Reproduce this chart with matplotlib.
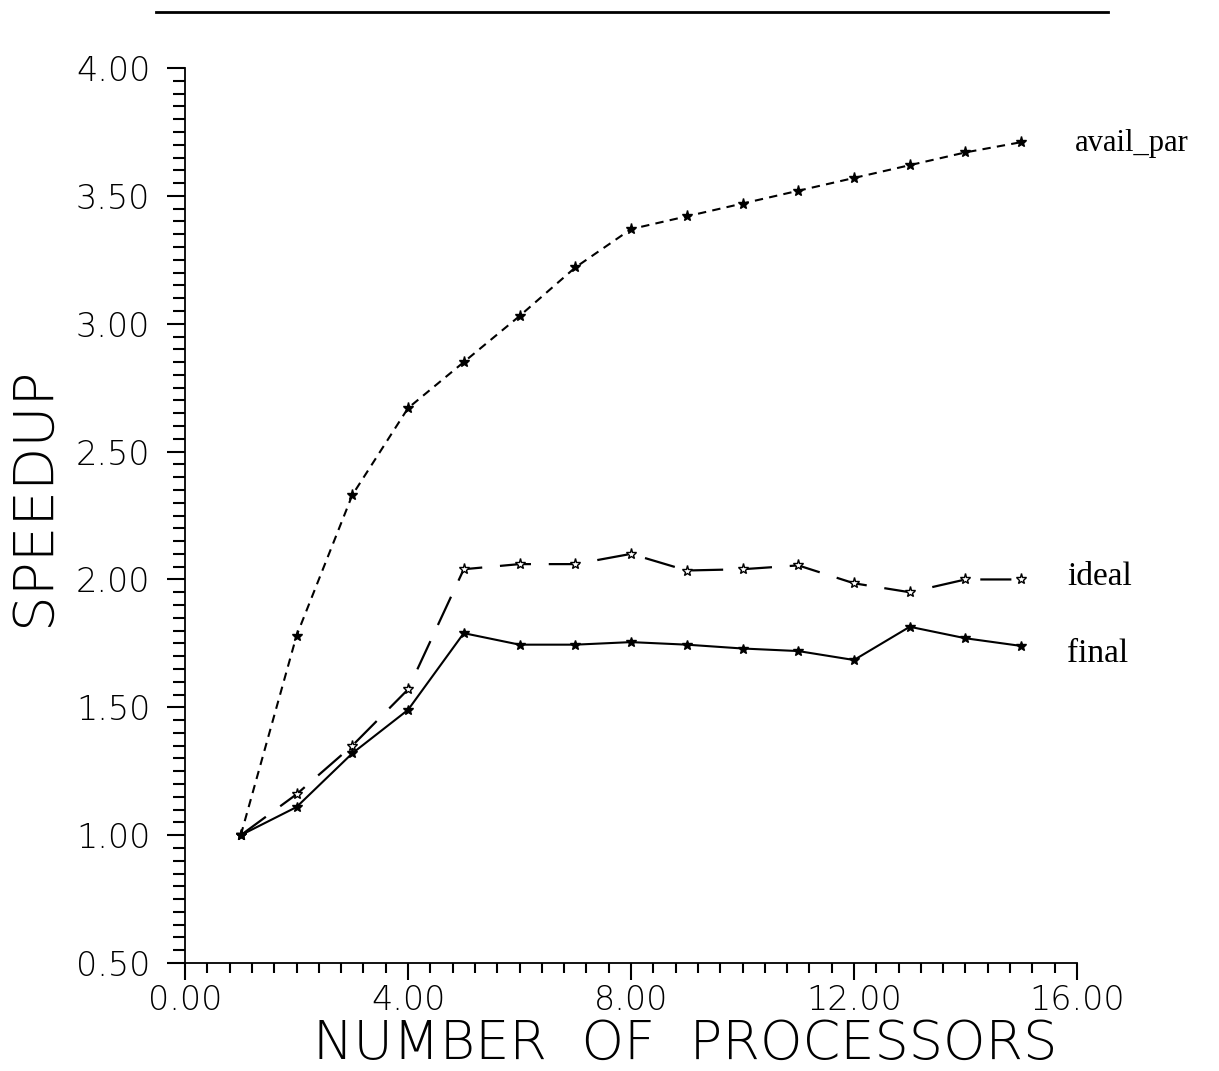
import matplotlib
matplotlib.use("Agg")
import matplotlib.pyplot as plt
from matplotlib.ticker import MultipleLocator, FormatStrFormatter
from matplotlib.lines import Line2D

# Number of processors and measured speedups
processors = [1, 2, 3, 4, 5, 6, 7, 8, 9, 10, 11, 12, 13, 14, 15]
avail_par = [1.00, 1.78, 2.33, 2.67, 2.85, 3.03, 3.22, 3.37, 3.42, 3.47, 3.52, 3.57, 3.62, 3.67, 3.71]
ideal = [1.00, 1.16, 1.35, 1.57, 2.04, 2.06, 2.06, 2.10, 2.035, 2.04, 2.055, 1.985, 1.95, 2.00, 2.00]
final = [1.00, 1.11, 1.32, 1.49, 1.79, 1.745, 1.745, 1.755, 1.745, 1.73, 1.72, 1.685, 1.815, 1.77, 1.74]

series_names = ["avail_par", "ideal", "final"]

x_ticks = [0, 4, 8, 12, 16]
y_ticks = [0.5, 1.0, 1.5, 2.0, 2.5, 3.0, 3.5, 4.0]

fig = plt.figure(figsize=(12.19, 10.71), dpi=100)
ax = fig.add_axes([0.1518, 0.1008, 0.7317, 0.8357])

ax.plot(processors, avail_par, color="black", lw=1.5, dashes=(4, 3),
        marker="*", ms=8, mfc="black", mec="black")
ax.plot(processors, ideal, color="black", lw=1.6, dashes=(14, 8),
        marker="*", ms=8, mfc="white", mec="black", mew=1.0)
ax.plot(processors, final, color="black", lw=1.5,
        marker="*", ms=7, mfc="black", mec="black")

# Series names at the end of each curve
serif = ["Liberation Serif", "DejaVu Serif"]
ax.text(15.97, avail_par[-1] - 0.005, series_names[0], ha="left", va="center",
        fontsize=22, family=serif)
ax.text(15.82, ideal[-1] + 0.01, series_names[1], ha="left", va="center",
        fontsize=24, family=serif)
ax.text(15.82, final[-1] - 0.03, series_names[2], ha="left", va="center",
        fontsize=24, family=serif)

ax.set_xlim(0, 16)
ax.set_ylim(0.5, 4.0)
ax.set_xticks(x_ticks)
ax.set_yticks(y_ticks)
ax.xaxis.set_minor_locator(MultipleLocator(0.4))
ax.yaxis.set_minor_locator(MultipleLocator(0.05))
ax.xaxis.set_major_formatter(FormatStrFormatter("%.2f"))
ax.yaxis.set_major_formatter(FormatStrFormatter("%.2f"))

for side in ("top", "right"):
    ax.spines[side].set_visible(False)
for side in ("left", "bottom"):
    ax.spines[side].set_linewidth(1.3)

ax.tick_params(axis="y", which="major", direction="out", length=13, width=1.5, pad=12)
ax.tick_params(axis="y", which="minor", direction="out", length=9, width=1.5)
ax.tick_params(axis="x", which="major", direction="out", length=12, width=1.5, pad=3)
ax.tick_params(axis="x", which="minor", direction="out", length=7, width=1.5)

for lab in ax.get_xticklabels() + ax.get_yticklabels():
    lab.set_fontsize(24)
    lab.set_family(["DejaVu Sans"])
    lab.set_fontweight("light")

label_font = ["DejaVu Sans"]
ax.set_xlabel("NUMBER  OF  PROCESSORS", fontsize=39, family=label_font,
              fontweight="light")
ax.set_ylabel("SPEEDUP", fontsize=40.5, family=label_font, fontweight="light")
ax.xaxis.set_label_coords(0.5605, -0.0610)
ax.yaxis.set_label_coords(-0.139, 0.521)

# Rule across the top of the page
fig.add_artist(Line2D([156 / 1219, 1108 / 1219], [1 - 12 / 1071, 1 - 12 / 1071],
                      color="black", lw=2.0, transform=fig.transFigure))

fig.savefig("out.png", dpi=100, facecolor="white")
